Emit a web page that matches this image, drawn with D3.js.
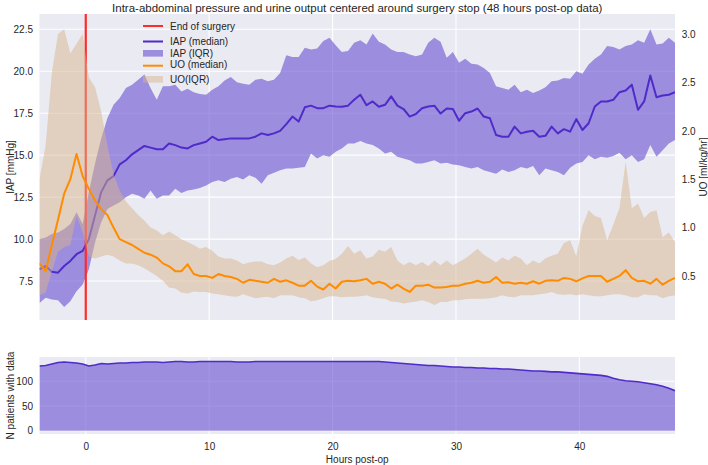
<!DOCTYPE html>
<html><head><meta charset="utf-8">
<script src="https://cdn.jsdelivr.net/npm/d3@7/dist/d3.min.js"></script>
<style>
body{margin:0;background:#fff;}
svg text{font-family:"Liberation Sans",Arial,sans-serif;fill:#262626;}
</style></head><body>
<svg id="c" width="708" height="465"></svg>
<script>
// ---------- DATA ----------
const hours = d3.range(-3.75, 47.76, 0.5);   // half-hour samples, -3.75 .. 47.75

const iapMedian = [8.2,8.4,8.05,8.0,8.4,8.7,9.1,9.3,10.0,11.4,12.8,13.5,13.75,14.45,14.7,15.05,15.3,15.55,15.45,15.35,15.35,
 15.7,15.6,15.45,15.4,15.6,15.7,15.8,16.1,15.9,15.95,16.0,16.0,16.0,16.0,16.1,16.3,16.2,16.3,16.45,16.85,17.3,
 17.0,17.85,17.95,17.8,17.8,17.95,17.9,17.88,17.95,18.3,18.6,17.98,18.2,17.88,18.0,18.5,17.95,17.75,17.3,17.45,17.8,
 17.9,17.95,17.48,17.78,17.75,17.05,17.5,17.6,17.78,17.3,17.2,16.2,16.1,16.1,16.7,16.3,16.4,16.45,16.1,16.15,16.7,
 16.3,16.55,16.4,17.15,16.5,16.9,17.9,18.2,18.2,18.3,18.75,18.85,19.2,17.7,18.2,19.75,18.45,18.55,18.6,18.75];

const iapQ75 = [10.0,10.1,10.3,10.4,10.6,10.9,11.6,10.9,12.8,14.5,16.0,17.2,18.0,18.4,19.0,19.2,19.5,19.8,19.0,18.3,19.1,
 19.1,19.2,18.8,18.95,18.75,18.65,18.6,18.9,19.1,19.45,19.65,19.35,19.25,19.2,19.5,19.55,19.4,19.5,19.9,20.95,20.85,
 20.85,21.4,21.3,21.35,21.8,22.0,21.55,21.15,21.2,21.7,21.85,21.6,22.25,21.75,21.6,21.3,21.15,21.15,21.0,20.9,21.0,
 21.7,22.0,21.75,20.8,21.15,20.5,20.75,20.45,20.4,20.2,19.9,19.1,19.0,18.9,19.2,18.75,18.9,18.7,18.85,19.05,19.4,
 19.45,19.6,19.55,20.0,19.85,20.4,20.75,21.0,21.5,21.45,21.3,21.5,21.6,21.85,21.7,22.5,21.6,21.65,22.0,21.7];

const iapQ25 = [6.2,6.5,6.4,6.35,5.95,6.3,6.9,7.3,8.2,9.8,11.0,11.8,12.0,12.2,12.5,12.7,12.6,12.4,12.9,12.4,12.6,
 12.6,13.0,12.75,12.9,12.95,13.05,13.2,13.4,13.5,13.4,13.6,13.7,13.55,13.8,13.65,13.3,13.8,13.95,14.1,14.2,14.2,
 14.25,14.3,15.1,14.8,15.0,14.9,15.2,15.4,15.7,15.7,15.85,15.7,15.6,15.4,15.1,15.2,14.9,14.8,14.7,14.5,14.5,
 14.6,14.7,14.5,14.55,14.45,14.4,14.3,14.2,14.3,14.1,14.0,13.9,14.15,14.0,14.1,14.3,14.2,14.35,13.8,14.2,14.1,
 14.0,13.8,14.25,14.5,14.6,15.0,14.75,14.9,14.85,14.95,15.15,14.75,15.0,14.6,14.75,15.6,14.9,15.3,15.7,15.9];

const uoMedian = [0.63,0.55,0.82,1.08,1.35,1.50,1.76,1.53,1.40,1.28,1.19,1.13,1.0,0.88,0.85,0.82,0.78,0.74,0.72,0.69,0.63,
 0.60,0.55,0.55,0.62,0.52,0.50,0.50,0.48,0.52,0.50,0.49,0.47,0.43,0.46,0.45,0.44,0.43,0.47,0.44,0.455,0.43,
 0.40,0.40,0.45,0.39,0.36,0.42,0.37,0.44,0.45,0.445,0.455,0.47,0.42,0.44,0.42,0.37,0.41,0.37,0.335,0.40,0.40,
 0.41,0.38,0.38,0.385,0.40,0.40,0.42,0.43,0.45,0.43,0.44,0.49,0.43,0.435,0.42,0.43,0.42,0.445,0.42,0.45,0.455,
 0.45,0.48,0.47,0.445,0.475,0.50,0.50,0.50,0.44,0.47,0.50,0.56,0.48,0.445,0.45,0.42,0.47,0.41,0.45,0.48];

const uoQ75 = [1.5,1.85,2.6,3.0,3.05,2.8,2.9,3.0,2.55,2.45,2.2,1.85,1.55,1.38,1.27,1.2,1.13,1.07,1.0,0.97,0.92,
 0.96,0.92,0.88,0.85,0.82,0.78,0.80,0.76,0.70,0.68,0.68,0.66,0.62,0.64,0.65,0.65,0.62,0.61,0.64,0.68,0.71,
 0.665,0.69,0.63,0.59,0.61,0.655,0.675,0.73,0.81,0.73,0.765,0.68,0.70,0.77,0.75,0.80,0.66,0.61,0.645,0.61,0.645,
 0.60,0.66,0.61,0.66,0.61,0.645,0.68,0.73,0.78,0.72,0.68,0.64,0.69,0.66,0.71,0.68,0.61,0.66,0.63,0.68,0.71,
 0.73,0.84,0.87,0.70,1.02,1.18,1.12,1.10,0.87,1.03,1.20,1.68,1.20,1.25,1.10,1.16,1.18,0.90,0.95,0.85];

const uoQ25 = [0.30,0.33,0.55,0.75,0.80,0.82,1.12,0.95,0.70,0.68,0.70,0.72,0.70,0.66,0.63,0.63,0.61,0.58,0.54,0.50,0.45,
 0.38,0.37,0.33,0.32,0.34,0.335,0.335,0.32,0.31,0.30,0.29,0.285,0.31,0.29,0.27,0.28,0.285,0.27,0.30,0.30,0.30,
 0.28,0.27,0.24,0.25,0.27,0.29,0.29,0.28,0.285,0.285,0.29,0.30,0.28,0.27,0.265,0.235,0.23,0.215,0.225,0.235,0.25,
 0.23,0.20,0.23,0.23,0.25,0.25,0.26,0.265,0.265,0.265,0.27,0.28,0.30,0.285,0.28,0.30,0.30,0.30,0.31,0.32,0.335,
 0.31,0.305,0.31,0.30,0.31,0.30,0.29,0.29,0.30,0.31,0.31,0.30,0.28,0.28,0.31,0.30,0.30,0.27,0.29,0.30];

const nPatients = [131,132,135,138,139,138,137,135,131,133,136,135,136,137,137,138,138,139,139,139,138,
 139,140,140,139,139,140,140,140,140,140,140,139,139,139,140,140,140,140,140,140,140,
 140,140,140,140,140,140,140,140,140,140,140,140,140,140,139,138,137,136,135,134,133,
 132,132,131,130,129,129,128,128,127,127,126,126,125,125,124,123,122,121,121,120,119,
 119,118,117,116,115,114,113,112,110,106,103,101,100,99,97,95,93,90,86,81];

const surgeryEnd = 0;
const xTicks = [0, 10, 20, 30, 40];
const iapTicks = [7.5, 10.0, 12.5, 15.0, 17.5, 20.0, 22.5];
const uoTicks = [0.5, 1.0, 1.5, 2.0, 2.5, 3.0];
const nTicks = [0, 50, 100];
const legendLabels = ["End of surgery", "IAP (median)", "IAP (IQR)", "UO (median)", "UO(IQR)"];

// ---------- LAYOUT / STYLE ----------
const L = 39.5, R = 675, T1 = 14, B1 = 320, T2 = 357, B2 = 434;
const BG = "#EAEAF2";
const C_IAP = "#4f2bc9", C_IAP_FILL = "rgba(105,78,208,0.6)";
const C_UO = "#ff8c00", C_UO_FILL = "rgba(215,180,140,0.5)";
const C_RED = "#ff2b2b";

const svg = d3.select("#c");
const x = d3.scaleLinear().domain([-3.75, 47.75]).range([L, R]);
const yI = d3.scaleLinear().domain([5.18, 23.41]).range([B1, T1]);
const yU = d3.scaleLinear().domain([0.045, 3.207]).range([B1, T1]);
const yN = d3.scaleLinear().domain([-6.7, 149.2]).range([B2, T2]);

const defs = svg.append("defs");
defs.append("clipPath").attr("id","clipTop").append("rect").attr("x",L).attr("y",T1).attr("width",R-L).attr("height",B1-T1);
defs.append("clipPath").attr("id","clipBot").append("rect").attr("x",L).attr("y",T2).attr("width",R-L).attr("height",B2-T2);

svg.append("rect").attr("x",L).attr("y",T1).attr("width",R-L).attr("height",B1-T1).attr("fill",BG);
svg.append("rect").attr("x",L).attr("y",T2).attr("width",R-L).attr("height",B2-T2).attr("fill",BG);

const gridTop = svg.append("g").attr("stroke","#fff").attr("stroke-width",1.1);
gridTop.selectAll("line.h").data(iapTicks).join("line").attr("class","h").attr("x1",L).attr("x2",R).attr("y1",d=>yI(d)).attr("y2",d=>yI(d));
gridTop.selectAll("line.v").data(xTicks).join("line").attr("class","v").attr("y1",T1).attr("y2",B1).attr("x1",d=>x(d)).attr("x2",d=>x(d));
const gridBot = svg.append("g").attr("stroke","#fff").attr("stroke-width",1.1);
gridBot.selectAll("line.h").data(nTicks).join("line").attr("class","h").attr("x1",L).attr("x2",R).attr("y1",d=>yN(d)).attr("y2",d=>yN(d));
gridBot.selectAll("line.v").data(xTicks).join("line").attr("class","v").attr("y1",T2).attr("y2",B2).attr("x1",d=>x(d)).attr("x2",d=>x(d));

const rows = hours.map((h,i)=>({h, im:iapMedian[i], i25:iapQ25[i], i75:iapQ75[i], um:uoMedian[i], u25:uoQ25[i], u75:uoQ75[i], n:nPatients[i]}));

const gTop = svg.append("g").attr("clip-path","url(#clipTop)");
gTop.append("path").datum(rows).attr("fill",C_IAP_FILL)
  .attr("d", d3.area().x(d=>x(d.h)).y0(d=>yI(d.i25)).y1(d=>yI(d.i75)));
gTop.append("path").datum(rows).attr("fill","none").attr("stroke",C_IAP).attr("stroke-width",2).attr("stroke-linejoin","round")
  .attr("d", d3.line().x(d=>x(d.h)).y(d=>yI(d.im)));
gTop.append("line").attr("x1",x(surgeryEnd)).attr("x2",x(surgeryEnd)).attr("y1",T1).attr("y2",B1)
  .attr("stroke",C_RED).attr("stroke-width",2.2);
gTop.append("path").datum(rows).attr("fill",C_UO_FILL)
  .attr("d", d3.area().x(d=>x(d.h)).y0(d=>yU(d.u25)).y1(d=>yU(d.u75)));
gTop.append("path").datum(rows).attr("fill","none").attr("stroke",C_UO).attr("stroke-width",2).attr("stroke-linejoin","round")
  .attr("d", d3.line().x(d=>x(d.h)).y(d=>yU(d.um)));

const gBot = svg.append("g").attr("clip-path","url(#clipBot)");
gBot.append("path").datum(rows).attr("fill",C_IAP_FILL)
  .attr("d", d3.area().x(d=>x(d.h)).y0(yN(0)).y1(d=>yN(d.n)));
gBot.append("path").datum(rows).attr("fill","none").attr("stroke",C_IAP).attr("stroke-width",1.6)
  .attr("d", d3.line().x(d=>x(d.h)).y(d=>yN(d.n)));

function styleAxis(g){
  g.attr("font-family",null).attr("font-size",null);
  g.select(".domain").remove();
  g.selectAll(".tick line").remove();
  g.selectAll("text").attr("font-size",10).style("fill","#262626");
}
svg.append("g").attr("transform",`translate(${L},0)`)
  .call(d3.axisLeft(yI).tickValues(iapTicks).tickFormat(d3.format(".1f")).tickSize(0).tickPadding(6.5)).call(styleAxis);
svg.append("g").attr("transform",`translate(${R},0)`)
  .call(d3.axisRight(yU).tickValues(uoTicks).tickFormat(d3.format(".1f")).tickSize(0).tickPadding(6.7)).call(styleAxis);
svg.append("g").attr("transform",`translate(${L},0)`)
  .call(d3.axisLeft(yN).tickValues(nTicks).tickFormat(d3.format("d")).tickSize(0).tickPadding(6.5)).call(styleAxis);
svg.append("g").attr("transform",`translate(0,${B2})`)
  .call(d3.axisBottom(x).tickValues(xTicks).tickFormat(d3.format("d")).tickSize(0).tickPadding(8.5)).call(styleAxis);

svg.append("text").attr("x",(L+R)/2).attr("y",11.5).attr("text-anchor","middle").attr("font-size",11.5)
  .text("Intra-abdominal pressure and urine output centered around surgery stop (48 hours post-op data)");
svg.append("text").attr("x",(L+R)/2).attr("y",462.5).attr("text-anchor","middle").attr("font-size",10).text("Hours post-op");
svg.append("text").attr("transform",`translate(13.5,${(T1+B1)/2}) rotate(-90)`).attr("text-anchor","middle").attr("font-size",10).text("IAP [mmHg]");
svg.append("text").attr("transform",`translate(707,${(T1+B1)/2}) rotate(-90)`).attr("text-anchor","middle").attr("font-size",10).text("UO [ml/kg/hr]");
svg.append("text").attr("transform",`translate(13.5,${(T2+B2)/2}) rotate(-90)`).attr("text-anchor","middle").attr("font-size",10).text("N patients with data");

const lg = svg.append("g");
const lx0 = 143, lx1 = 163, ltx = 170;
const items = [
  {t:legendLabels[0], type:"line", c:C_RED, y:26, ty:26},
  {t:legendLabels[1], type:"line", c:C_IAP, y:41.5, ty:41},
  {t:legendLabels[2], type:"patch", c:C_IAP_FILL, y:53.3, ty:53.3},
  {t:legendLabels[3], type:"line", c:C_UO, y:65.7, ty:64.5},
  {t:legendLabels[4], type:"patch", c:C_UO_FILL, y:79.3, ty:79.3}
];
items.forEach(it=>{
  if(it.type==="line"){
    lg.append("line").attr("x1",lx0).attr("x2",lx1).attr("y1",it.y).attr("y2",it.y).attr("stroke",it.c).attr("stroke-width",2);
  } else {
    lg.append("rect").attr("x",lx0).attr("y",it.y-3.3).attr("width",lx1-lx0).attr("height",6.6).attr("fill",it.c);
  }
  lg.append("text").attr("x",ltx).attr("y",it.ty).attr("dy","0.35em").attr("font-size",10).text(it.t);
});
</script>
</body></html>
